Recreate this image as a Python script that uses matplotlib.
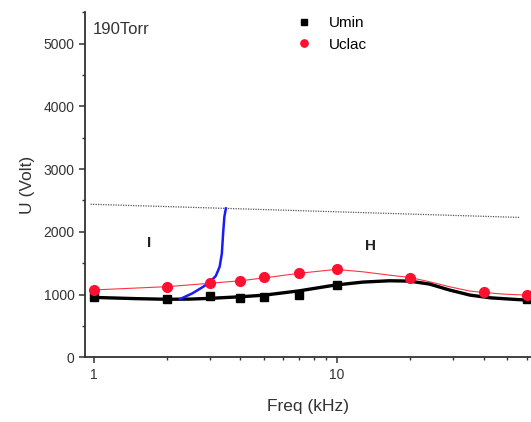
import matplotlib
matplotlib.use("Agg")
import matplotlib.pyplot as plt
from matplotlib.ticker import FixedLocator, NullFormatter, LogLocator

plt.rcParams['font.family'] = ['Liberation Sans', 'DejaVu Sans']

# data
umin_x = [1, 2, 3, 4, 5, 7, 10, 60]
umin_y = [960, 927, 975, 953, 968, 1000, 1150, 927]
uclac_x = [1, 2, 3, 4, 5, 7, 10, 20, 40, 60]
uclac_y = [1074, 1126, 1190, 1216, 1275, 1347, 1400, 1270, 1035, 990]

# fit curve for Umin
fit_x = [1, 1.5, 2, 2.5, 3, 4, 5, 7, 9.75, 12.75, 16.4, 19.8, 24, 29, 35.1, 42.4, 51.3, 60]
fit_y = [955, 935, 925, 928, 940, 965, 990, 1060, 1150, 1199, 1220, 1215, 1167, 1072, 992, 949, 928, 912]

# thin red line through Uclac
red_x = [1, 2, 3, 4, 5, 7, 9.9, 12.75, 16.4, 19.8, 24, 29, 35.1, 39.8, 48, 59]
red_y = [1074, 1126, 1180, 1220, 1265, 1340, 1401, 1363, 1310, 1274, 1204, 1124, 1056, 1035, 1008, 992]

# blue boundary curve
blue_x = [2.26, 2.54, 2.79, 2.98, 3.17, 3.29, 3.36, 3.40, 3.44, 3.49]
blue_y = [928, 1019, 1115, 1188, 1295, 1443, 1656, 1975, 2239, 2373]

# dotted line
dot_x = [0.97, 56]
dot_y = [2440, 2230]

fig = plt.figure(figsize=(5.31, 4.22), dpi=100)
ax = fig.add_axes([0.160, 0.1533, 0.840, 0.8176])

ax.plot(dot_x, dot_y, color='#555555', lw=0.9, ls=(0, (1, 1)))
ax.plot(red_x, red_y, color='#ff3344', lw=0.8)
ax.plot(fit_x, fit_y, color='black', lw=2.4, solid_joinstyle='round')
ax.plot(blue_x, blue_y, color='#1a1aff', lw=1.8, solid_joinstyle='round')
ax.plot(umin_x, umin_y, ls='none', marker='s', ms=6, color='black', label='Umin')
ax.plot(uclac_x, uclac_y, ls='none', marker='o', ms=7, color='#ff1030', label='Uclac')

ax.set_xscale('log')
ax.set_xlim(0.92, 62.6)
ax.set_ylim(0, 5500)

ax.set_yticks([0, 1000, 2000, 3000, 4000, 5000])
ax.yaxis.set_minor_locator(FixedLocator([500, 1500, 2500, 3500, 4500, 5500]))
ax.set_xticks([1, 10])
ax.set_xticklabels(['1', '10'])
ax.xaxis.set_minor_locator(LogLocator(base=10, subs=range(2, 10)))
ax.xaxis.set_minor_formatter(NullFormatter())

for s in ['top', 'right']:
    ax.spines[s].set_visible(False)
for s in ['left', 'bottom']:
    ax.spines[s].set_linewidth(1.3)
    ax.spines[s].set_color('#333333')

ax.tick_params(which='major', direction='out', length=4, width=1.1, labelsize=10, colors='#333333')
ax.tick_params(which='minor', direction='out', length=2.5, width=1.0, colors='#333333')
ax.tick_params(axis='x', pad=4)

ax.set_xlabel('Freq (kHz)', fontsize=12.5, color='#333333', labelpad=12)
ax.set_ylabel('U (Volt)', fontsize=12.5, color='#333333', labelpad=6)

ax.text(0.017, 0.951, '190Torr', transform=ax.transAxes, fontsize=12, color='#333333', va='center', ha='left')
ax.text(1.69, 1820, 'I', fontsize=11, color='#222222', ha='center', va='center', fontweight='bold')
ax.text(13.7, 1780, 'H', fontsize=11, color='#222222', ha='center', va='center', fontweight='bold')

ax.legend(loc='upper left', bbox_to_anchor=(0.44, 1.029), frameon=False, handlelength=1.2,
          handletextpad=1.0, labelspacing=0.5, fontsize=11, markerscale=0.75)

fig.savefig('out.png', dpi=100)
